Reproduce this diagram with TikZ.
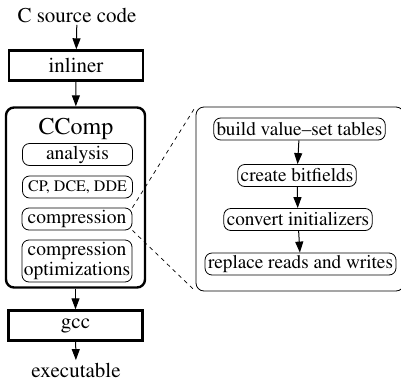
\documentclass[tikz,border=0pt]{standalone}
\usepackage[T1]{fontenc}
\usepackage{times}
\usetikzlibrary{arrows.meta}
\newcommand{\bw}{134pt}
\newcommand{\iw}{110pt}

\begin{document}
\begin{tikzpicture}[x=1pt, y=-1pt,
    box/.style={draw, rectangle, line width=2.4pt, minimum width=\bw, minimum height=30pt, inner sep=0pt, font=\fontsize{21}{23}\selectfont},
    lbl/.style={anchor=base, inner sep=2.5pt, font=\fontsize{21}{23}\selectfont},
    pass/.style={draw, rectangle, rounded corners=7pt, line width=0.8pt, minimum width=\iw, minimum height=22pt, inner sep=0pt, font=\fontsize{19.5}{19.5}\selectfont},
    stage/.style={draw, rectangle, rounded corners=7pt, line width=0.8pt, minimum height=22pt, inner xsep=3pt, inner ysep=0pt, font=\fontsize{19.2}{20}\selectfont},
    flow/.style={-{Triangle[length=11pt, width=8pt]}, line width=1pt},
    zoom/.style={dashed, dash pattern=on 4pt off 4pt, line width=0.7pt}]
    \useasboundingbox (0,0) rectangle (401,386);

    % Main chain
    \node[lbl] (src) at (77,22) {C source code};
    \node[box] (inliner) at (76,65.5) {inliner};
    \node[draw, rectangle, rounded corners=8pt, line width=2.4pt, minimum width=139pt, minimum height=180pt] (ccomp) at (75.5,197.5) {};
    \node[box] (gcc) at (75.5,325.5) {gcc};
    \node[lbl] (exe) at (76,377) {executable};

    % Inside CComp
    \node[anchor=base, inner sep=0pt, font=\fontsize{24}{26}\selectfont] (title) at (76,134) {CComp};
    \node[pass] (analysis) at (77.5,154.5) {analysis};
    \node[pass, font=\fontsize{16}{17}\selectfont] (cp) at (77.5,187) {CP, DCE, DDE};
    \node[pass] (compr) at (77,219) {compression};
    \node[pass, minimum height=42pt, align=center] (compropt) at (77,261) {compression\\optimizations};

    % Compression detail
    \node[draw, rectangle, rounded corners=8pt, line width=0.8pt, minimum width=208pt, minimum height=184pt] (detail) at (300,199) {};
    \node[stage] (build) at (299.5,129) {build value--set tables};
    \node[stage] (bits) at (297,175.5) {create bitfields};
    \node[stage] (init) at (298,219.5) {convert initializers};
    \node[stage] (repl) at (300.5,264) {replace reads and writes};

    % Connectors
    \draw[flow] (src) -- (inliner);
    \draw[flow] (inliner) -- (ccomp);
    \draw[flow] (ccomp) -- (gcc);
    \draw[flow] (gcc) -- (exe);
    \draw[flow] (build) -- (bits);
    \draw[flow] (bits) -- (init);
    \draw[flow] (init) -- (repl);
    \draw[zoom] (compr.north east) -- (detail.north west);
    \draw[zoom] (compr.south east) -- (detail.south west);
\end{tikzpicture}
\end{document}
